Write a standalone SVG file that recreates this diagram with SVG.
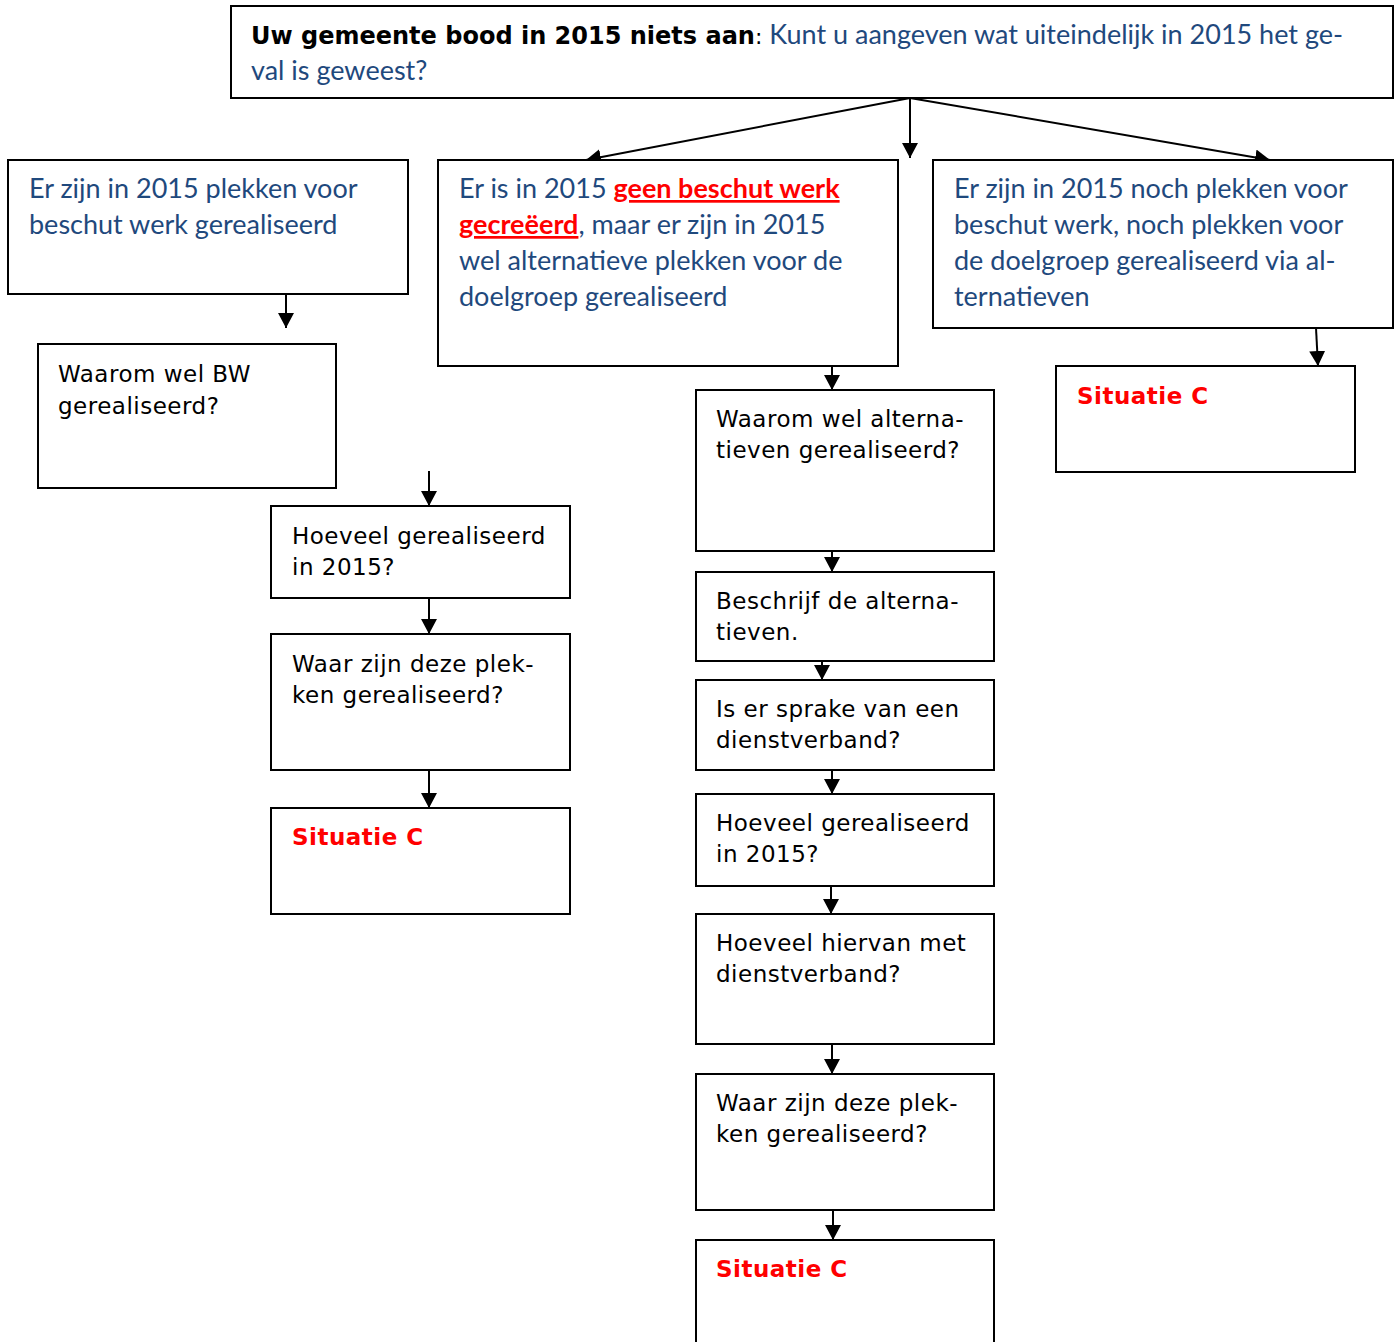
<svg xmlns="http://www.w3.org/2000/svg" width="1398" height="1342" viewBox="0 0 1398 1342">
<defs>
<marker id="ah" markerWidth="15" markerHeight="16" refX="15" refY="8" orient="auto" markerUnits="userSpaceOnUse">
<path d="M0,0 L15,8 L0,16 Z" fill="#000"/>
</marker>
<style>
.box{fill:#fff;stroke:#000;stroke-width:2}
.blue{font-family:Lato,"Liberation Sans",sans-serif;font-size:27px;fill:#1F497D}
.blk{font-family:"DejaVu Sans",Verdana,sans-serif;font-size:23px;letter-spacing:0.5px;fill:#000}
.red{font-family:"DejaVu Sans",Verdana,sans-serif;font-size:23px;letter-spacing:0.5px;font-weight:bold;fill:#FF0000}
.hb{font-family:"DejaVu Sans",Verdana,sans-serif;font-size:24px;font-weight:bold;fill:#000}
.rb{font-weight:bold;fill:#FF0000;text-decoration:underline}
.con{stroke:#000;stroke-width:2;fill:none;marker-end:url(#ah)}
</style>
</defs>
<rect width="1398" height="1342" fill="#fff"/>
<g id="connectors">
<line class="con" x1="910" y1="98" x2="586" y2="160"/>
<line class="con" x1="910" y1="98" x2="910" y2="158"/>
<line class="con" x1="910" y1="98" x2="1270" y2="160"/>
<line class="con" x1="286" y1="294" x2="286" y2="328"/>
<line class="con" x1="429" y1="471" x2="429" y2="506"/>
<line class="con" x1="429" y1="598" x2="429" y2="634"/>
<line class="con" x1="429" y1="770" x2="429" y2="808"/>
<line class="con" x1="832" y1="366" x2="832" y2="390"/>
<line class="con" x1="832" y1="551" x2="832" y2="572"/>
<line class="con" x1="822" y1="661" x2="822" y2="680"/>
<line class="con" x1="832" y1="770" x2="832" y2="794"/>
<line class="con" x1="831" y1="886" x2="831" y2="914"/>
<line class="con" x1="832" y1="1044" x2="832" y2="1074"/>
<line class="con" x1="833" y1="1210" x2="833" y2="1240"/>
<line class="con" x1="1316" y1="328" x2="1318" y2="366"/>
</g>
<g id="n-top">
<rect class="box" x="231" y="6" width="1162" height="92"/>
<text x="251" y="44"><tspan class="hb">Uw gemeente bood in 2015 niets aan</tspan><tspan font-family="DejaVu Sans,sans-serif" font-size="22px" fill="#000">: </tspan><tspan class="blue">Kunt u aangeven wat uiteindelijk in 2015 het ge-</tspan></text>
<text class="blue" x="251" y="80">val is geweest?</text>
</g>
<g id="n-a">
<rect class="box" x="8" y="160" width="400" height="134"/>
<text class="blue" x="29" y="198">Er zijn in 2015 plekken voor</text>
<text class="blue" x="29" y="234">beschut werk gerealiseerd</text>
</g>
<g id="n-b">
<rect class="box" x="438" y="160" width="460" height="206"/>
<text class="blue" x="459" y="198">Er is in 2015 <tspan class="rb">geen beschut werk</tspan></text>
<text class="blue" x="459" y="234"><tspan class="rb">gecreëerd</tspan>, maar er zijn in 2015</text>
<text class="blue" x="459" y="270">wel alternatieve plekken voor de</text>
<text class="blue" x="459" y="306">doelgroep gerealiseerd</text>
</g>
<g id="n-c">
<rect class="box" x="933" y="160" width="460" height="168"/>
<text class="blue" x="954" y="198">Er zijn in 2015 noch plekken voor</text>
<text class="blue" x="954" y="234">beschut werk, noch plekken voor</text>
<text class="blue" x="954" y="270">de doelgroep gerealiseerd via al-</text>
<text class="blue" x="954" y="306">ternatieven</text>
</g>
<g id="n-a1">
<rect class="box" x="38" y="344" width="298" height="144"/>
<text class="blk" x="58" y="382">Waarom wel BW</text>
<text class="blk" x="58" y="414">gerealiseerd?</text>
</g>
<g id="n-a2">
<rect class="box" x="271" y="506" width="299" height="92"/>
<text class="blk" x="292" y="544">Hoeveel gerealiseerd</text>
<text class="blk" x="292" y="575">in 2015?</text>
</g>
<g id="n-a3">
<rect class="box" x="271" y="634" width="299" height="136"/>
<text class="blk" x="292" y="672">Waar zijn deze plek-</text>
<text class="blk" x="292" y="703">ken gerealiseerd?</text>
</g>
<g id="n-a4">
<rect class="box" x="271" y="808" width="299" height="106"/>
<text class="red" x="292" y="845">Situatie C</text>
</g>
<g id="n-b1">
<rect class="box" x="696" y="390" width="298" height="161"/>
<text class="blk" x="716" y="427">Waarom wel alterna-</text>
<text class="blk" x="716" y="458">tieven gerealiseerd?</text>
</g>
<g id="n-b2">
<rect class="box" x="696" y="572" width="298" height="89"/>
<text class="blk" x="716" y="609">Beschrijf de alterna-</text>
<text class="blk" x="716" y="640">tieven.</text>
</g>
<g id="n-b3">
<rect class="box" x="696" y="680" width="298" height="90"/>
<text class="blk" x="716" y="717">Is er sprake van een</text>
<text class="blk" x="716" y="748">dienstverband?</text>
</g>
<g id="n-b4">
<rect class="box" x="696" y="794" width="298" height="92"/>
<text class="blk" x="716" y="831">Hoeveel gerealiseerd</text>
<text class="blk" x="716" y="862">in 2015?</text>
</g>
<g id="n-b5">
<rect class="box" x="696" y="914" width="298" height="130"/>
<text class="blk" x="716" y="951">Hoeveel hiervan met</text>
<text class="blk" x="716" y="982">dienstverband?</text>
</g>
<g id="n-b6">
<rect class="box" x="696" y="1074" width="298" height="136"/>
<text class="blk" x="716" y="1111">Waar zijn deze plek-</text>
<text class="blk" x="716" y="1142">ken gerealiseerd?</text>
</g>
<g id="n-b7">
<rect class="box" x="696" y="1240" width="298" height="110"/>
<text class="red" x="716" y="1277">Situatie C</text>
</g>
<g id="n-c1">
<rect class="box" x="1056" y="366" width="299" height="106"/>
<text class="red" x="1077" y="404">Situatie C</text>
</g>
</svg>
